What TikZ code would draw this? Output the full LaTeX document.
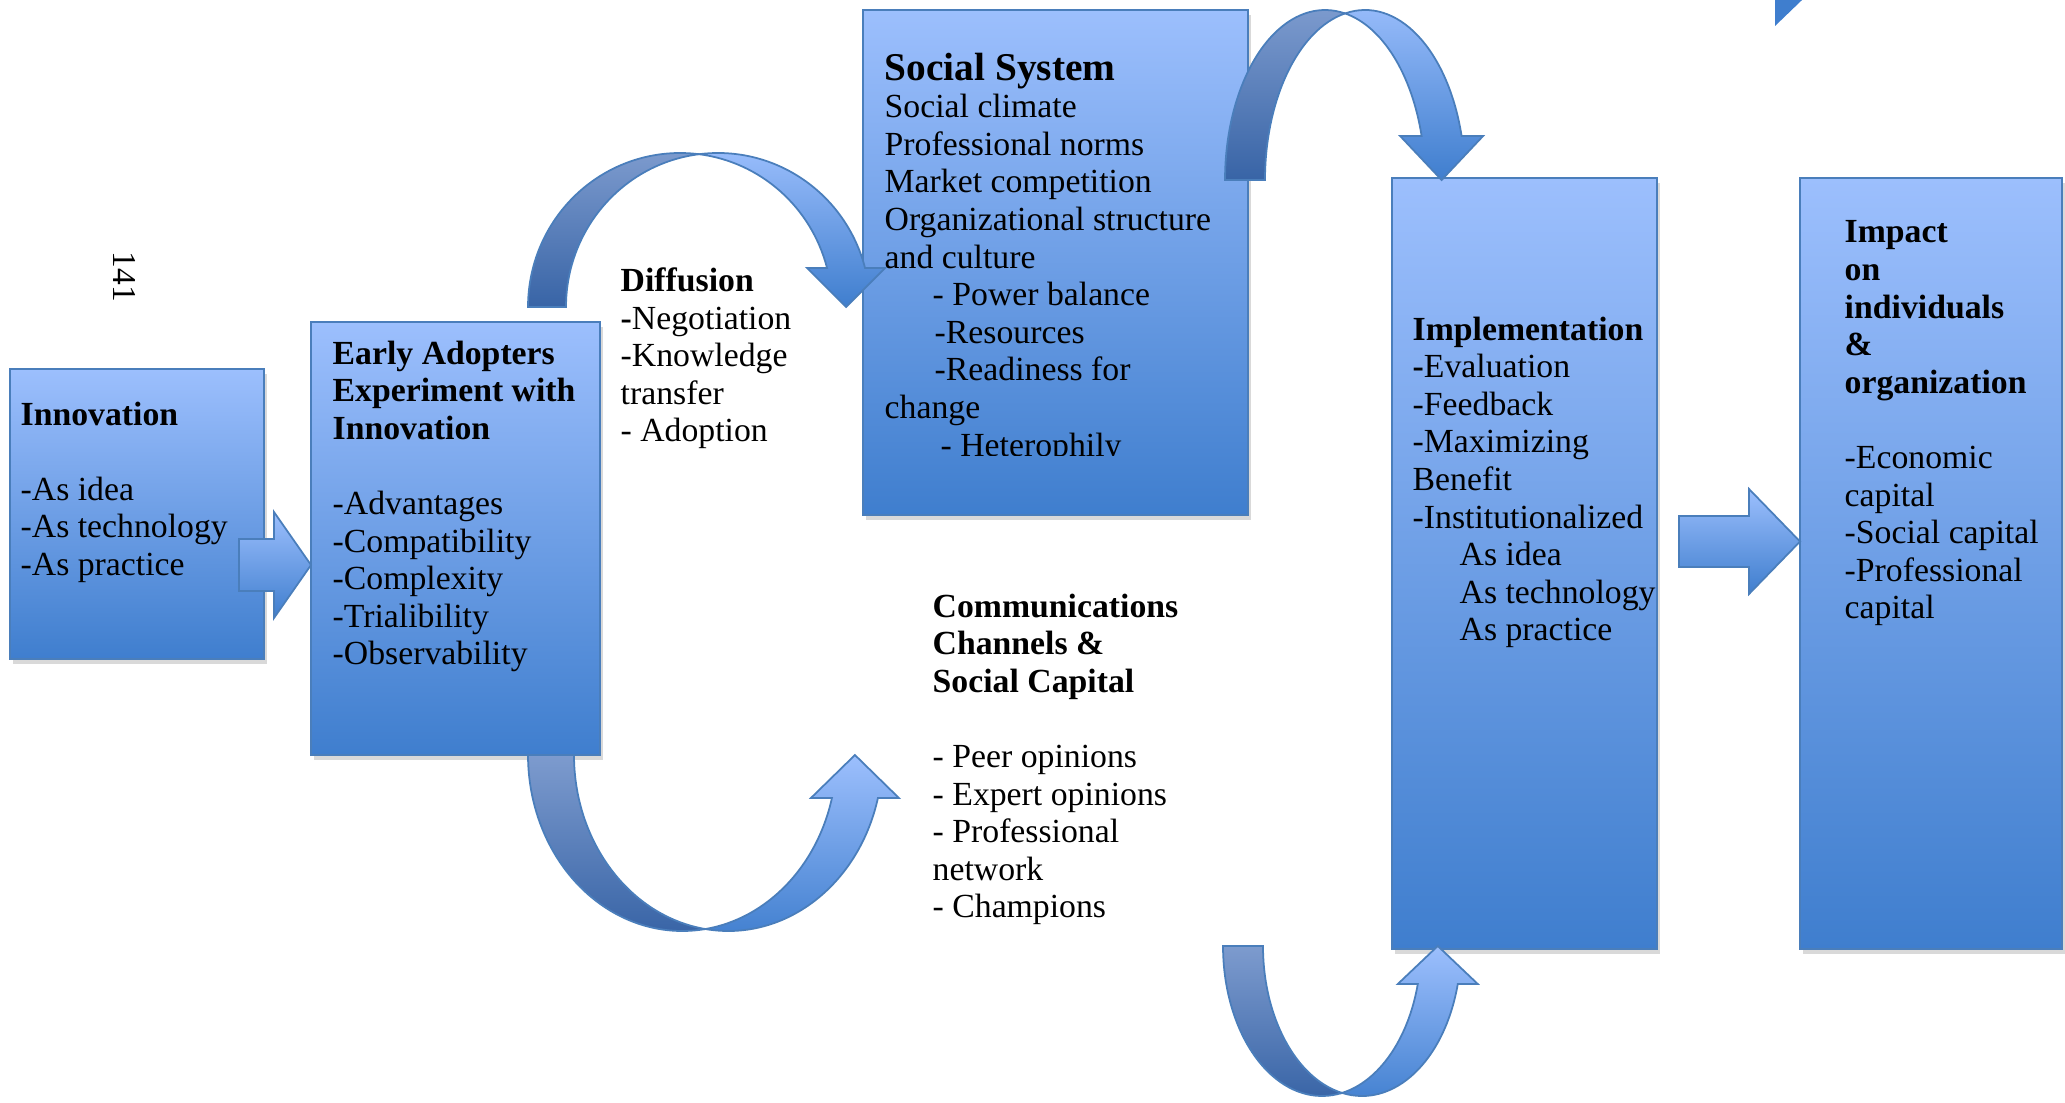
\documentclass[tikz,border=0pt]{standalone}
\usepackage{fontspec}
\setmainfont{Liberation Serif}
\usetikzlibrary{shadows}

\definecolor{boxtop}{RGB}{156,191,253}
\definecolor{boxbot}{RGB}{63,126,206}
\definecolor{boxline}{RGB}{74,126,187}
\definecolor{foldtop}{RGB}{125,155,206}
\definecolor{foldbot}{RGB}{56,100,166}

% bent arrow: tail x, band width, base y, x radius, y radius, neck height, ear, up (1) / down (-1)
\newcommand{\bentarrow}[8]{%
  \pgfmathsetmacro{\ba}{acos(#2/(2*#4))}
  \pgfmathsetmacro{\bt}{asin(#6/#5)}
  \pgfmathsetmacro{\bc}{#1+#4}
  \pgfmathsetmacro{\bni}{\bc+#4*cos(\bt)}
  \pgfmathsetmacro{\bno}{\bni+#2}
  \pgfmathsetmacro{\byn}{#3+#8*#6}
  \pgfmathsetmacro{\byi}{#3+#8*#5*sin(\ba)}
  \pgfmathsetmacro{\bxi}{\bc+#2/2}
  \path[bentback] (\bxi,\byi) arc[start angle={#8*(180-\ba)}, end angle={#8*\bt}, x radius=#4, y radius=#5]
    -- (\bno+#7,\byn) -- ({(\bni+\bno)/2},#3) -- (\bni-#7,\byn) -- (\bni,\byn)
    arc[start angle={#8*\bt}, end angle={#8*\ba}, x radius=#4, y radius=#5] -- cycle;
  \path[bentfront] (#1,#3) arc[start angle={#8*180}, end angle={#8*\ba}, x radius=#4, y radius=#5]
    arc[start angle={#8*(180-\ba)}, end angle={#8*180}, x radius=#4, y radius=#5] -- cycle;
}
% block arrow: tip, length, shaft half, head half, head length
\newcommand{\blockarrow}[5]{%
  \path[blockarr] (#1) -- ++(-#5,#4) -- ++(0,{-(#4-#3)}) -- ++({-(#2-#5)},0) -- ++(0,{-2*#3})
    -- ++({#2-#5},0) -- ++(0,{-(#4-#3)}) -- cycle;
}

\begin{document}
\begin{tikzpicture}[
    box/.style={draw=boxline, line width=0.6pt, top color=boxtop, bottom color=boxbot,
      anchor=north west, inner sep=0, outer sep=0,
      drop shadow={opacity=0.3, shadow xshift=0.03cm, shadow yshift=-0.05cm}},
    txt/.style={anchor=north west, inner sep=0, align=left, font=\fontsize{9.6}{10.7}\selectfont},
    bentback/.style={draw=boxline, line width=0.5pt, top color=boxtop, bottom color=boxbot},
    bentfront/.style={draw=boxline, line width=0.5pt, top color=foldtop, bottom color=foldbot},
    blockarr/.style={draw=boxline, line width=0.5pt, top color=boxtop, bottom color=boxbot}]
  \useasboundingbox (0,0) rectangle (20.65,11.02);

  \node[box, minimum width=2.54cm, minimum height=2.90cm] (innov) at (0.10,7.33) {};
  \node[box, minimum width=2.89cm, minimum height=4.33cm] (early) at (3.11,7.80) {};
  \node[box, minimum width=3.85cm, minimum height=5.05cm] (social) at (8.63,10.92) {};
  \node[box, minimum width=2.65cm, minimum height=7.71cm] (impl) at (13.92,9.24) {};
  \node[box, minimum width=2.62cm, minimum height=7.71cm] (impact) at (18.00,9.24) {};

  \node[txt] (innovtxt) at ([shift={(0.10,-0.32)}]innov.north west)
    {\textbf{Innovation}\\ \\-As idea\\-As technology\\-As practice};
  \node[txt] (earlytxt) at ([shift={(0.21,-0.18)}]early.north west)
    {\textbf{Early Adopters}\\\textbf{Experiment with}\\\textbf{Innovation}\\ \\-Advantages\\-Compatibility\\-Complexity\\-Trialibility\\-Observability};
  \node[txt] (difftxt) at (6.20,8.35)
    {\textbf{Diffusion}\\\textbf{-}Negotiation\\-Knowledge\\transfer\\- Adoption};
  \begin{scope}
    \clip (8.60,6.47) rectangle (12.50,11.02);
    \node[txt] (socialtxt) at ([shift={(0.21,-0.42)}]social.north west)
      {{\fontsize{11.2}{12}\selectfont\textbf{Social System}}\\Social climate\\Professional norms\\Market competition\\Organizational structure\\and culture\\
       \hspace*{0.48cm}- Power balance\\\hspace*{0.50cm}-Resources\\\hspace*{0.50cm}-Readiness for\\change\\\hspace*{0.56cm}- Heterophily};
  \end{scope}
  \node[txt] (commtxt) at (9.32,5.09)
    {\textbf{Communications}\\\textbf{Channels \&}\\\textbf{Social Capital}\\ \\- Peer opinions\\- Expert opinions\\- Professional\\network\\- Champions};
  \node[txt] (impltxt) at ([shift={(0.20,-1.38)}]impl.north west)
    {\textbf{Implementation}\\\textbf{-}Evaluation\\-Feedback\\-Maximizing\\Benefit\\-Institutionalized\\
     \hspace*{0.47cm}As idea\\\hspace*{0.47cm}As technology\\\hspace*{0.47cm}As practice};
  \node[txt] (impacttxt) at ([shift={(0.44,-0.42)}]impact.north west)
    {\textbf{Impact}\\\textbf{on}\\\textbf{individuals}\\\textbf{\&}\\\textbf{organization}\\ \\-Economic\\capital\\-Social capital\\-Professional\\capital};
  \node[rotate=-90, inner sep=0, font=\fontsize{9.5}{11}\selectfont] (page) at (1.25,8.25) {141};

  % arrows between the boxes
  \blockarrow{[yshift=-0.265cm]early.west}{0.72}{0.26}{0.53}{0.37}
  \blockarrow{[yshift=0.22cm]impact.west}{1.21}{0.255}{0.525}{0.51}
  \bentarrow{5.28}{0.38}{7.95}{1.52}{1.54}{0.39}{0.20}{1}
  \bentarrow{5.28}{0.46}{3.47}{1.543}{1.76}{0.43}{0.21}{-1}
  \bentarrow{12.25}{0.40}{9.22}{1.00}{1.70}{0.44}{0.215}{1}
  \bentarrow{12.23}{0.40}{1.56}{0.99}{1.50}{0.38}{0.20}{-1}
  \fill[boxbot] (17.75,11.02) -- (18.02,11.02) -- (17.75,10.76) -- cycle;
\end{tikzpicture}
\end{document}
